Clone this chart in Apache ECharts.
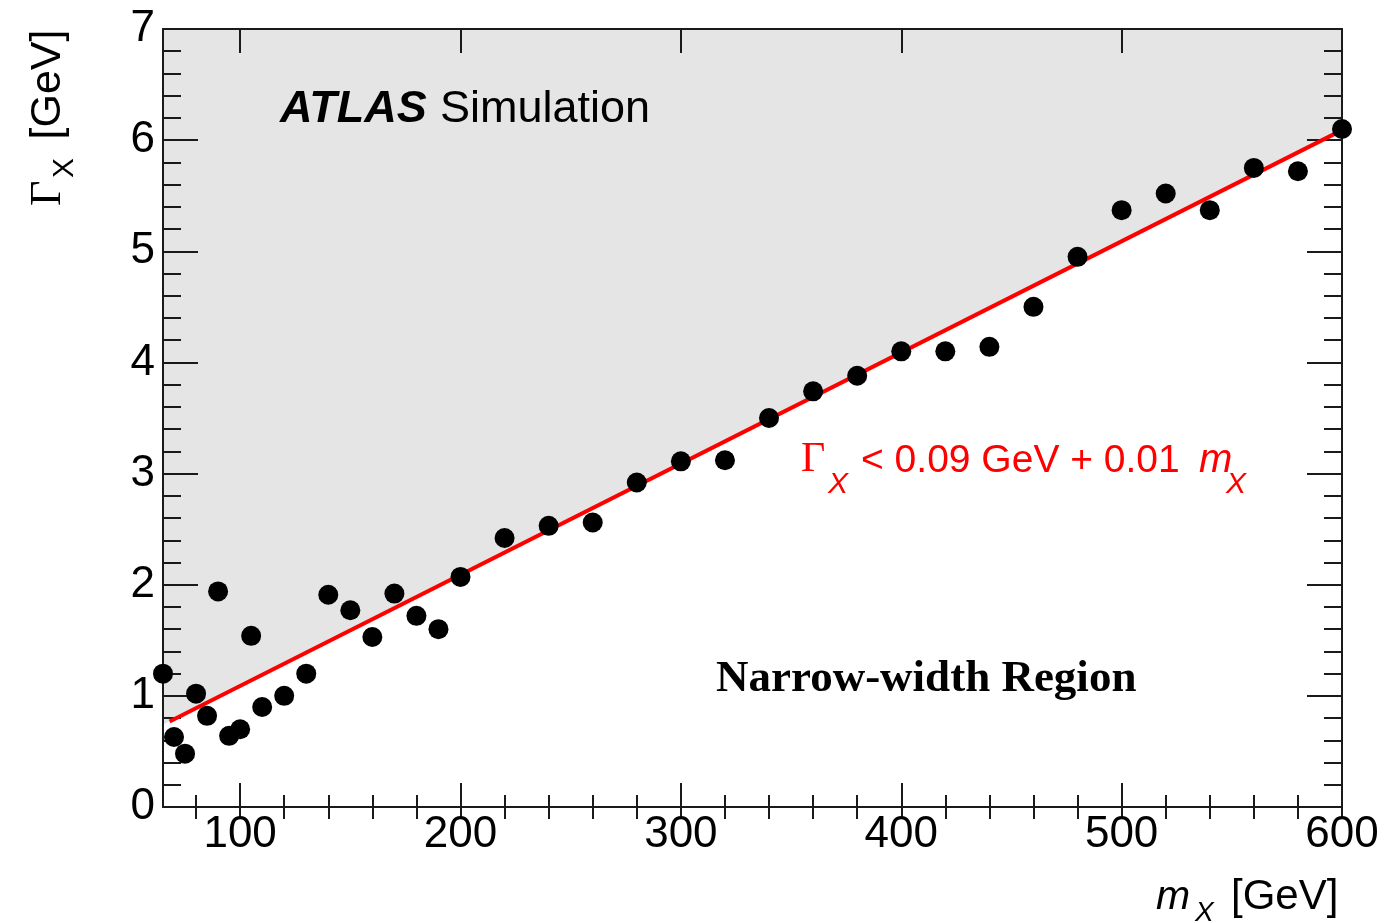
<!DOCTYPE html>
<html>
<head>
<meta charset="utf-8">
<script src="https://cdn.jsdelivr.net/npm/echarts@6/dist/echarts.min.js"></script>
<style>
  html, body { margin: 0; padding: 0; background: #ffffff; }
  #chart { width: 1392px; height: 923px; }
</style>
</head>
<body>
<div id="chart"></div>
<script>
// Simulated resonance masses (GeV) and the corresponding widths (GeV)
const massPoints = [65, 70, 75, 80, 85, 90, 95, 100, 105, 110,
  120, 130, 140, 150, 160, 170, 180, 190, 200,
  220, 240, 260, 280, 300, 320, 340, 360, 380,
  400, 420, 440, 460, 480, 500, 520, 540, 560, 580, 600];
const widthPoints = [1.20, 0.63, 0.48, 1.02, 0.82, 1.94, 0.64, 0.70, 1.54, 0.90,
  1.00, 1.20, 1.91, 1.77, 1.53, 1.92, 1.72, 1.60, 2.07,
  2.42, 2.53, 2.56, 2.92, 3.11, 3.12, 3.50, 3.74, 3.88,
  4.10, 4.10, 4.14, 4.50, 4.95, 5.37, 5.52, 5.37, 5.75, 5.72, 6.10];

// Narrow-width boundary: Gamma_X = 0.09 GeV + 0.01 m_X
const fitIntercept = 0.09;
const fitSlope = 0.01;
const fitLineRange = [68, 600];
const shadeRange = [65, 600];

// Axis ranges and tick positions
const xRange = [65, 600];
const yRange = [0, 7];
const xMajorTicks = [100, 200, 300, 400, 500, 600];
const xMinorTicks = [80, 100, 120, 140, 160, 180, 200, 220, 240, 260, 280, 300, 320, 340,
  360, 380, 400, 420, 440, 460, 480, 500, 520, 540, 560, 580, 600];

const SANS = '"Liberation Sans", Arial, Helvetica, sans-serif';
const SERIF = '"Liberation Serif", "Times New Roman", serif';
const INK = '#1a1a1a';
const RED = '#ff0000';

const boundary = m => fitIntercept + fitSlope * m;
const points = massPoints.map((m, i) => [m, widthPoints[i]]);
const fitLine = fitLineRange.map(m => [m, boundary(m)]);
const shadeEdge = shadeRange.map(m => [m, boundary(m)]);

const frameLine = { show: true, onZero: false, lineStyle: { color: INK, width: 2 } };
const tickStyle = { color: INK, width: 2 };

function xAxisDef(position, major) {
  return {
    type: 'value', min: xRange[0], max: xRange[1], position: position, z: 3,
    axisLine: major ? frameLine : { show: false },
    axisTick: { show: true, inside: true, length: major ? 24 : 12,
                customValues: major ? xMajorTicks : xMinorTicks, lineStyle: tickStyle },
    axisLabel: (major && position === 'bottom')
      ? { show: true, customValues: xMajorTicks, fontSize: 44, fontFamily: SANS,
          color: '#000', margin: 6 }
      : { show: false },
    splitLine: { show: false }
  };
}

function yAxisDef(position) {
  return {
    type: 'value', min: yRange[0], max: yRange[1], interval: 1, position: position, z: 3,
    axisLine: frameLine,
    axisTick: { show: true, inside: true, length: 35, lineStyle: tickStyle },
    minorTick: { show: true, splitNumber: 5, length: 18, lineStyle: tickStyle },
    axisLabel: position === 'left'
      ? { show: true, fontSize: 44, fontFamily: SANS, color: '#000', margin: 8 }
      : { show: false },
    splitLine: { show: false },
    minorSplitLine: { show: false }
  };
}

// vertical centre for a text whose baseline sits at y
const mid = (baseline, size) => baseline - 0.3 * size;

function txt(x, y, text, size, family, extra) {
  return {
    type: 'text', x: x, y: y, z: 10, silent: true,
    style: Object.assign({ text: text, fontSize: size, fontFamily: family, fill: '#000',
                           align: 'left', verticalAlign: 'middle' }, extra || {})
  };
}

const chart = echarts.init(document.getElementById('chart'), null, { renderer: 'canvas' });

chart.setOption({
  animation: false,
  backgroundColor: '#ffffff',
  grid: { left: 163, right: 50, top: 29, bottom: 116 },
  xAxis: [
    xAxisDef('bottom', true), xAxisDef('bottom', false),
    xAxisDef('top', true), xAxisDef('top', false)
  ],
  yAxis: [yAxisDef('left'), yAxisDef('right')],
  series: [
    {
      name: 'excluded', type: 'line', data: shadeEdge, symbol: 'none', silent: true, z: 1,
      lineStyle: { width: 0, opacity: 0 },
      areaStyle: { color: '#e5e5e5', opacity: 1, origin: 'end' }
    },
    {
      name: 'boundary', type: 'line', data: fitLine, symbol: 'none', silent: true, z: 4,
      lineStyle: { color: RED, width: 4 }
    },
    {
      name: 'width', type: 'scatter', data: points, symbol: 'circle', symbolSize: 20,
      clip: false, z: 5, itemStyle: { color: '#000', opacity: 1 }
    }
  ],
  graphic: [
    // experiment label
    txt(280, mid(123, 45), 'ATLAS', 45, SANS, { fontWeight: 'bold', fontStyle: 'italic' }),
    txt(440, mid(123, 45), 'Simulation', 45, SANS),
    // region label
    txt(716, mid(693, 45), 'Narrow-width Region', 45, SERIF, { fontWeight: 'bold' }),
    // boundary formula
    txt(801, mid(473, 42), 'Γ', 42, SERIF, { fill: RED }),
    txt(828, mid(494, 30), 'X', 30, SANS, { fill: RED, fontStyle: 'italic' }),
    txt(861, mid(473, 39), '< 0.09 GeV + 0.01', 39, SANS, { fill: RED }),
    txt(1199, mid(473, 40), 'm', 40, SANS, { fill: RED, fontStyle: 'italic' }),
    txt(1226, mid(494, 30), 'X', 30, SANS, { fill: RED, fontStyle: 'italic' }),
    // x-axis title
    txt(1156, mid(910, 41), 'm', 41, SANS, { fontStyle: 'italic' }),
    txt(1195, mid(922, 28), 'X', 28, SANS, { fontStyle: 'italic' }),
    txt(1231, mid(910, 42), '[GeV]', 42, SANS),
    // y-axis title (rotated)
    Object.assign(txt(61.7 - 0.3 * 44, 206, 'Γ', 44, SERIF), { rotation: Math.PI / 2 }),
    Object.assign(txt(73.3 - 0.3 * 30, 178, 'X', 30, SANS), { rotation: Math.PI / 2 }),
    Object.assign(txt(61 - 0.3 * 43, 139.5, '[GeV]', 43, SANS), { rotation: Math.PI / 2 })
  ]
});
</script>
</body>
</html>
